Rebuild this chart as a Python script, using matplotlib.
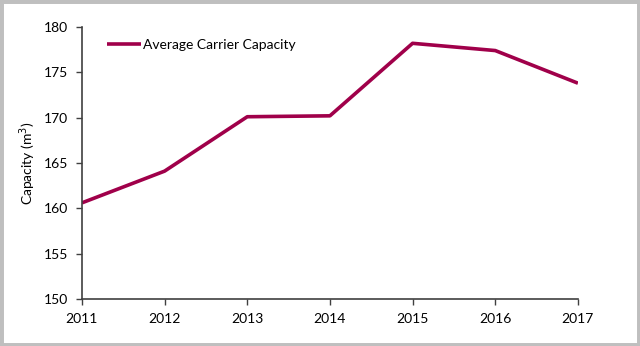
import matplotlib.pyplot as plt
from matplotlib.patches import Rectangle

plt.rcParams['font.family'] = ['Lato', 'DejaVu Sans']

# Average carrier capacity by year
years = [2011, 2012, 2013, 2014, 2015, 2016, 2017]
capacity = [160.6, 164.1, 170.1, 170.2, 178.2, 177.4, 173.8]

line_color = '#A0004A'

fig = plt.figure(figsize=(6.4, 3.46), dpi=100)
ax = fig.add_axes([0.128, 0.136, 0.775, 0.786])

ax.plot(years, capacity, color=line_color, linewidth=2.6, solid_capstyle='butt',
        label='Average Carrier Capacity')

ax.set_xlim(2011, 2017)
ax.set_ylim(150, 180)
ax.set_xticks(years)
ax.set_yticks(range(150, 181, 5))
ax.tick_params(labelsize=10, length=4, width=1, color='#404040', pad=6)
ax.set_ylabel('Capacity (m$^3$)', fontsize=10, labelpad=4)

for side in ('top', 'right'):
    ax.spines[side].set_visible(False)
for side in ('left', 'bottom'):
    ax.spines[side].set_color('#404040')
    ax.spines[side].set_linewidth(1.2)

ax.legend(loc='upper left', bbox_to_anchor=(0.04, 0.975), frameon=False,
          fontsize=10, handlelength=2.4, handletextpad=0.2, borderaxespad=0)

# grey frame round the whole figure
fig.patches.append(Rectangle((0, 0), 1, 1, transform=fig.transFigure,
                             fill=False, edgecolor='#BFBFBF', linewidth=5))

fig.savefig('out.png', dpi=100)
